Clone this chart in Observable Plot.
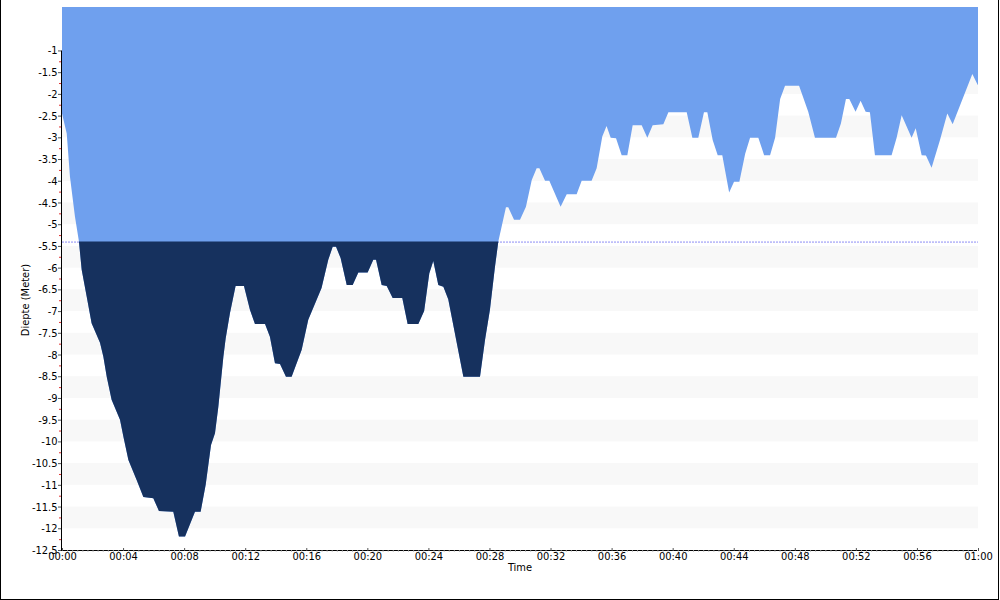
<!DOCTYPE html>
<html>
<head>
<meta charset="utf-8">
<script src="https://cdn.jsdelivr.net/npm/d3@7"></script>
<script src="https://cdn.jsdelivr.net/npm/@observablehq/plot@0.6"></script>
<style>
  html, body { margin: 0; padding: 0; background: #fff; }
  #wrap { position: relative; width: 1000px; height: 600px; overflow: hidden; font-family: "DejaVu Sans Condensed", "Liberation Sans", sans-serif; }
  #frame { position: absolute; left: 0; top: 0; width: 997px; height: 599px; border-left: 1px solid #000; border-right: 1px solid #000; border-bottom: 1px solid #000; pointer-events: none; }
  .lbl { position: absolute; font-size: 11px; color: #000; white-space: nowrap; }
  #xlab { left: 520px; top: 567px; transform: translate(-50%, -50%); }
  #ylab { left: 25px; top: 300px; transform: translate(-50%, -50%) rotate(-90deg); }
  svg { position: absolute; left: 0; top: 0; }
</style>
</head>
<body>
<div id="wrap">
  <div id="chart"></div>
  <div class="lbl" id="xlab">Time</div>
  <div class="lbl" id="ylab">Diepte (Meter)</div>
  <div id="frame"></div>
</div>
<script>
// Dive profile: time (minutes) and depth (metres, negative)
const times = [0, 0.31, 0.52, 0.85, 1.11, 1.29, 1.62, 1.94, 2.49, 2.71, 2.93, 3.25, 3.8, 4.02, 4.35, 4.89, 5.33, 5.98, 6.35, 7.29, 7.66, 8.06, 8.71, 9.08, 9.41, 9.76, 10.02, 10.24, 10.57, 10.72, 11.0, 11.37, 11.92, 12.31, 12.64, 13.3, 13.62, 13.95, 14.28, 14.67, 15.04, 15.7, 16.13, 17.0, 17.44, 17.73, 17.95, 18.25, 18.65, 19.04, 19.41, 20.02, 20.39, 20.57, 20.94, 21.27, 21.66, 22.29, 22.64, 23.34, 23.72, 24.06, 24.32, 24.65, 24.98, 25.3, 26.29, 27.38, 27.71, 28.03, 28.36, 28.58, 29.08, 29.23, 29.61, 30.0, 30.39, 30.77, 31.09, 31.27, 31.64, 31.92, 32.66, 33.06, 33.71, 34.04, 34.69, 35.02, 35.39, 35.67, 35.94, 36.29, 36.66, 37.03, 37.38, 37.97, 38.34, 38.69, 39.39, 39.72, 40.92, 41.29, 41.68, 42.05, 42.27, 42.62, 42.95, 43.25, 43.7, 44.02, 44.37, 44.75, 45.07, 45.61, 45.99, 46.38, 46.71, 47.04, 47.36, 48.28, 48.88, 49.32, 50.7, 51.02, 51.35, 51.57, 51.98, 52.31, 52.64, 52.92, 53.25, 54.34, 54.67, 55.0, 55.65, 55.92, 56.31, 56.59, 56.96, 57.51, 57.99, 58.34, 59.63, 59.96, 60];
const depths = [-2.45, -2.91, -3.9, -4.83, -5.4, -6.05, -6.67, -7.28, -7.73, -8.05, -8.51, -9.04, -9.5, -9.89, -10.43, -10.89, -11.28, -11.31, -11.6, -11.62, -12.19, -12.19, -11.62, -11.62, -11.0, -10.08, -9.81, -9.2, -8.05, -7.63, -7.05, -6.42, -6.42, -6.97, -7.3, -7.3, -7.59, -8.2, -8.22, -8.51, -8.51, -7.89, -7.2, -6.47, -5.82, -5.52, -5.52, -5.78, -6.4, -6.4, -6.11, -6.11, -5.82, -5.82, -6.4, -6.42, -6.7, -6.7, -7.3, -7.3, -7.0, -6.13, -5.85, -6.4, -6.44, -6.73, -8.51, -8.51, -7.66, -6.97, -5.98, -5.4, -4.61, -4.61, -4.9, -4.9, -4.6, -3.98, -3.71, -3.71, -4.0, -4.0, -4.6, -4.31, -4.31, -4.0, -4.0, -3.71, -2.98, -2.74, -3.01, -3.02, -3.41, -3.41, -2.72, -2.72, -3.01, -2.72, -2.7, -2.42, -2.42, -3.01, -3.01, -2.42, -2.42, -3.06, -3.41, -3.41, -4.27, -4.02, -4.02, -3.38, -3.01, -3.01, -3.41, -3.41, -3.01, -2.12, -1.81, -1.81, -2.41, -3.01, -3.01, -2.68, -2.12, -2.12, -2.41, -2.16, -2.41, -2.42, -3.41, -3.41, -3.01, -2.49, -3.01, -2.79, -3.41, -3.42, -3.7, -3.06, -2.45, -2.7, -1.54, -1.78, -1.8];
const threshold = -5.4;
const yTicks = [-1, -1.5, -2, -2.5, -3, -3.5, -4, -4.5, -5, -5.5, -6, -6.5, -7, -7.5, -8, -8.5, -9, -9.5, -10, -10.5, -11, -11.5, -12, -12.5];
const xTicks = [0, 4, 8, 12, 16, 20, 24, 28, 32, 36, 40, 44, 48, 52, 56, 60];

const data = times.map((t, i) => ({t, d: depths[i]}));
const yMinor = yTicks.slice(0, -1).map(v => v - 0.25);
const xMinor = d3.range(0, 60 + 1e-9, 1 / 3).filter(v => Math.abs(v / 4 - Math.round(v / 4)) > 1e-6);
const stripes = d3.range(0, 12).map(n => -(n + 0.5));
const fmtTime = m => `${String(Math.floor(m / 60)).padStart(2, "0")}:${String(Math.round(m % 60)).padStart(2, "0")}`;

const chart = Plot.plot({
  width: 1000,
  height: 600,
  marginLeft: 62,
  marginRight: 22,
  marginTop: 7,
  marginBottom: 50,
  style: {fontFamily: '"DejaVu Sans Condensed", "Liberation Sans", sans-serif', fontSize: "11px", background: "transparent", color: "#000"},
  x: {domain: [0, 60]},
  y: {domain: [-12.5, 0]},
  marks: [
    Plot.rect(stripes, {x1: 0, x2: 60, y1: d => d, y2: d => d - 0.5, fill: "#f8f8f8"}),
    Plot.ruleY([threshold], {stroke: "#8c8cf5", strokeDasharray: "2,1", strokeWidth: 1}),
    Plot.areaY(data, {x: "t", y1: 0, y2: "d", fill: "#6fa0ee", curve: "linear"}),
    Plot.areaY(data, {x: "t", y1: threshold, y2: d => Math.min(d.d, threshold), fill: "#16315e", curve: "linear"}),
    // axis lines
    Plot.ruleX([0], {y1: -1, y2: -12.5, stroke: "#000", dx: -1}),
    Plot.ruleY([-12.5], {x1: 0, x2: 60, stroke: "#000", dx: -1}),
    // y axis
    Plot.axisY({ticks: yMinor, tickSize: 2, stroke: "#e03030", fill: "none", label: null, dx: -1}),
    Plot.axisY({ticks: yTicks, tickSize: 3, tickPadding: 1, stroke: "#555", tickFormat: d => String(d), label: null, dx: -1}),
    // x axis
    Plot.axisX({ticks: xMinor, tickSize: 1.5, stroke: "#888", fill: "none", label: null}),
    Plot.axisX({ticks: xTicks, tickSize: 3, tickPadding: 1, stroke: "#555", tickFormat: fmtTime, label: null, dy: -2}),
  ]
});
document.getElementById("chart").appendChild(chart);
</script>
</body>
</html>
